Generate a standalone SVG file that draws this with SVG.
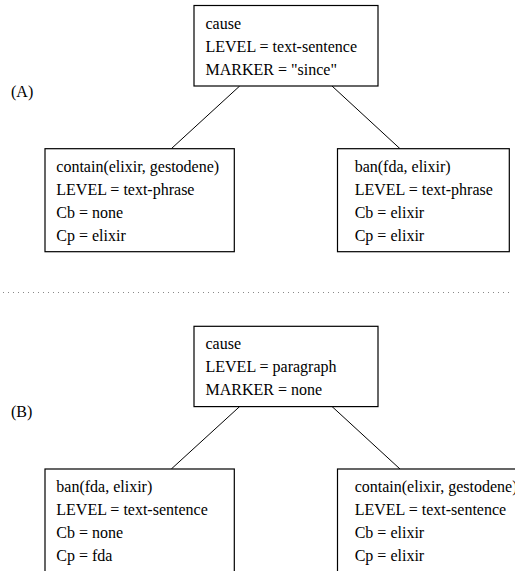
<svg xmlns="http://www.w3.org/2000/svg" width="515" height="571" viewBox="0 0 515 571">
<style>
text{font-family:"Liberation Serif","Times New Roman",serif;font-size:16px;fill:#000}
.box{fill:#fff;stroke:#000;stroke-width:1.2}
.edge{stroke:#000;stroke-width:1;fill:none}
.sep{stroke:#888;stroke-width:1;stroke-dasharray:1 4}
</style>
<rect width="515" height="571" fill="#fff"/>
<text x="11" y="97">(A)</text>
<text x="11" y="417">(B)</text>
<line class="sep" x1="3" y1="292.5" x2="512" y2="292.5"/>
<g id="connectors">
<line class="edge" x1="239.7" y1="86" x2="171.3" y2="148.7"/>
<line class="edge" x1="332" y1="86" x2="400" y2="148.7"/>
<line class="edge" x1="239.7" y1="406.5" x2="171.3" y2="469"/>
<line class="edge" x1="332" y1="406.5" x2="400" y2="469"/>
</g>
<g id="a-cause">
<rect class="box" x="194" y="5.5" width="184" height="80.5"/>
<text x="205.5" y="29">cause</text>
<text x="205.5" y="52">LEVEL = text-sentence</text>
<text x="205.5" y="74.5">MARKER = "since"</text>
</g>
<g id="a-contain">
<rect class="box" x="45" y="148.7" width="189.3" height="103"/>
<text x="56.3" y="172">contain(elixir, gestodene)</text>
<text x="56.3" y="195">LEVEL = text-phrase</text>
<text x="56.3" y="218">Cb = none</text>
<text x="56.3" y="241">Cp = elixir</text>
</g>
<g id="a-ban">
<rect class="box" x="337.5" y="148.7" width="171.8" height="103"/>
<text x="354.7" y="172">ban(fda, elixir)</text>
<text x="354.7" y="195">LEVEL = text-phrase</text>
<text x="354.7" y="218">Cb = elixir</text>
<text x="354.7" y="241">Cp = elixir</text>
</g>
<g id="b-cause">
<rect class="box" x="194" y="326.3" width="184" height="80.3"/>
<text x="205.5" y="349">cause</text>
<text x="205.5" y="372">LEVEL = paragraph</text>
<text x="205.5" y="394.5">MARKER = none</text>
</g>
<g id="b-ban">
<rect class="box" x="45" y="469" width="189.3" height="110"/>
<text x="56.3" y="492">ban(fda, elixir)</text>
<text x="56.3" y="515">LEVEL = text-sentence</text>
<text x="56.3" y="538">Cb = none</text>
<text x="56.3" y="561">Cp = fda</text>
</g>
<g id="b-contain">
<rect class="box" x="337.5" y="469" width="190" height="110"/>
<text x="354.7" y="492">contain(elixir, gestodene)</text>
<text x="354.7" y="515">LEVEL = text-sentence</text>
<text x="354.7" y="538">Cb = elixir</text>
<text x="354.7" y="561">Cp = elixir</text>
</g>
</svg>
